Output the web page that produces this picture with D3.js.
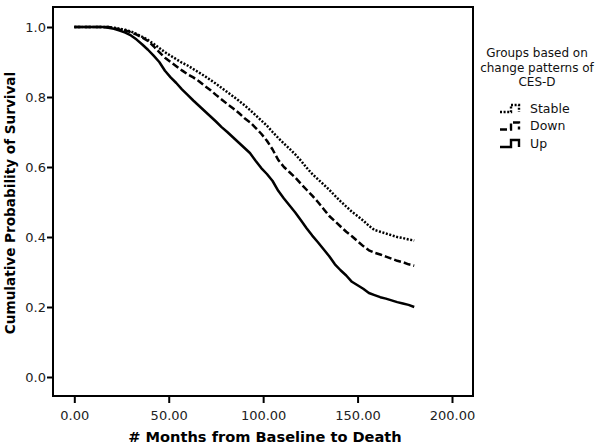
<!DOCTYPE html>
<html><head><meta charset="utf-8">
<script src="https://cdn.jsdelivr.net/npm/d3@7"></script>
<style>body{margin:0;background:#fff}svg{display:block}text{font-family:"DejaVu Sans",sans-serif}</style>
</head><body>
<svg id="c" width="600" height="445"></svg>
<script>
const months = d3.range(0, 181, 3);
const survUp = [1,1,1,1,1,1,0.998,0.995,0.99,0.984,0.976,0.964,0.95,0.935,0.918,0.90,0.875,0.856,0.84,0.822,0.806,0.79,0.775,0.76,0.745,0.73,0.714,0.70,0.685,0.67,0.655,0.64,0.618,0.597,0.58,0.56,0.532,0.51,0.49,0.47,0.448,0.425,0.404,0.385,0.365,0.345,0.322,0.305,0.29,0.272,0.262,0.252,0.24,0.234,0.228,0.224,0.219,0.214,0.21,0.206,0.20];
const survDown = [1,1,1,1,1,1,1,0.997,0.993,0.99,0.985,0.978,0.97,0.96,0.945,0.928,0.912,0.90,0.888,0.876,0.865,0.856,0.845,0.832,0.82,0.806,0.793,0.78,0.768,0.755,0.74,0.728,0.712,0.695,0.675,0.65,0.62,0.60,0.585,0.57,0.552,0.535,0.518,0.50,0.48,0.46,0.445,0.43,0.415,0.402,0.388,0.374,0.362,0.355,0.35,0.344,0.338,0.332,0.328,0.322,0.318];
const survStable = [1,1,1,1,1,1,1,0.998,0.995,0.992,0.987,0.98,0.972,0.963,0.952,0.94,0.928,0.918,0.908,0.898,0.89,0.88,0.87,0.86,0.849,0.838,0.826,0.814,0.802,0.79,0.777,0.763,0.748,0.733,0.718,0.70,0.683,0.667,0.652,0.636,0.618,0.598,0.58,0.565,0.55,0.535,0.518,0.502,0.487,0.472,0.46,0.447,0.432,0.42,0.415,0.41,0.405,0.40,0.397,0.393,0.39];
const groups = ["Stable","Down","Up"];
const xTicks = [0,50,100,150,200];
const yTicks = [0,0.2,0.4,0.6,0.8,1.0];
const legendTitle = ["Groups based on","change patterns of","CES-D"];

const svg = d3.select("#c");
const L=53,T=7,R=473,B=396;
const x = d3.scaleLinear().domain([0,200]).range([74.3,452]);
const y = d3.scaleLinear().domain([0,1]).range([377,27]);

const dash = {Stable:"2,1.6", Down:"7,3", Up:null};
const series = {Stable:survStable, Down:survDown, Up:survUp};

const line = d3.line().x(d=>x(d[0])).y(d=>y(d[1])).curve(d3.curveLinear);
groups.forEach(g=>{
  const data = months.map((m,i)=>[m, series[g][i]]);
  svg.append("path").attr("d", line(data)).attr("fill","none").attr("stroke","#000")
    .attr("stroke-width",2.5).attr("stroke-linejoin","round").attr("stroke-dasharray",dash[g]);
});

// frame
svg.append("rect").attr("x",L).attr("y",T).attr("width",R-L).attr("height",B-T)
  .attr("fill","none").attr("stroke","#000").attr("stroke-width",2);

const xa = svg.append("g").attr("transform",`translate(0,${B})`)
  .call(d3.axisBottom(x).tickValues(xTicks).tickFormat(d3.format(".2f")).tickSize(7).tickSizeOuter(0));
xa.select(".domain").remove();
xa.selectAll("line").attr("stroke","#000").attr("stroke-width",2);
xa.selectAll("text").attr("font-size",13).attr("fill","#222").attr("dy","1.1em");

const ya = svg.append("g").attr("transform",`translate(${L},0)`)
  .call(d3.axisLeft(y).tickValues(yTicks).tickFormat(d3.format(".1f")).tickSize(6).tickSizeOuter(0));
ya.select(".domain").remove();
ya.selectAll("line").attr("stroke","#000").attr("stroke-width",2);
ya.selectAll("text").attr("font-size",13).attr("fill","#222").attr("x",-7);

svg.append("text").attr("x",265).attr("y",442).attr("text-anchor","middle")
  .attr("font-size",14.6).attr("font-weight","bold").text("# Months from Baseline to Death");
svg.append("text").attr("transform","translate(15,203) rotate(-90)").attr("text-anchor","middle")
  .attr("font-size",13.6).attr("font-weight","bold").text("Cumulative Probability of Survival");

// legend
legendTitle.forEach((t,i)=>svg.append("text").attr("x",537).attr("y",57+i*14.5)
  .attr("text-anchor","middle").attr("font-size",12).attr("fill","#111").text(t));
groups.forEach((g,i)=>{
  const cy = 108+i*17.5;
  svg.append("path").attr("d",`M500,${cy+4}H511V${cy-3}H519V${cy+4}`)
    .attr("fill","none").attr("stroke","#000").attr("stroke-width",2.4).attr("stroke-dasharray",dash[g]);
  svg.append("text").attr("x",530).attr("y",cy+4.5).attr("font-size",12.5).attr("fill","#111").text(g);
});
</script>
</body></html>
